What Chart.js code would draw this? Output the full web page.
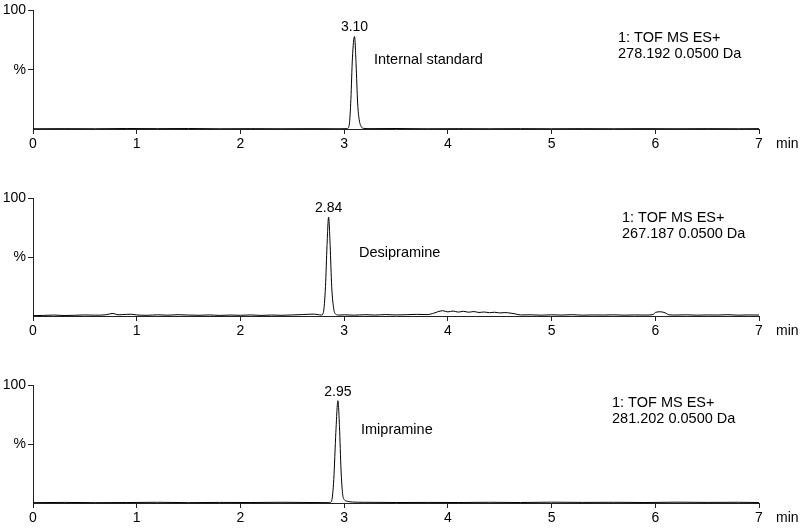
<!DOCTYPE html>
<html><head><meta charset="utf-8">
<script src="https://cdn.jsdelivr.net/npm/chart.js@4.4.1/dist/chart.umd.min.js"></script>
<style>
html,body{margin:0;padding:0;background:#fff;overflow:hidden;width:800px;height:530px;}
.p{position:absolute;left:0;width:800px;}
</style></head><body>
<div class="p" style="top:0px;height:160px"><canvas id="c1" width="800" height="160"></canvas></div>
<div class="p" style="top:188px;height:160px"><canvas id="c2" width="800" height="160"></canvas></div>
<div class="p" style="top:375px;height:155px"><canvas id="c3" width="800" height="155"></canvas></div>
<script>
// ---- data ----
const xTicks = [0,1,2,3,4,5,6,7];
const xUnit = 'min';
const yTickLabels = {100:'100', 50:'%'};
const compounds = ['Internal standard','Desipramine','Imipramine'];
const peakLabels = ['3.10','2.84','2.95'];
const channel = '1: TOF MS ES+';
const masses = ['278.192 0.0500 Da','267.187 0.0500 Da','281.202 0.0500 Da'];

// Panel 1: internal standard (time, %)
const time1 = [0,0.3,0.6,0.9,1.2,1.5,1.8,2.1,2.4,2.7,2.95,3.03,3.05,3.065,3.08,3.10,3.115,3.13,3.145,3.165,3.19,3.25,3.5,3.8,4.1,4.4,4.7,5.0,5.3,5.6,5.9,6.2,6.5,6.8,7.0];
const pct1  = [0.2,0.3,0.2,0.4,0.3,0.4,0.2,0.3,0.2,0.3,0.2,0.3,4,25,60,78,55,22,8,2,0.5,0.3,0.4,0.2,0.3,0.2,0.3,0.2,0.3,0.2,0.3,0.2,0.3,0.2,0.3];

// Panel 2: desipramine
const time2 = [0,0.1,0.2,0.3,0.4,0.5,0.6,0.7,0.77,0.82,0.9,0.95,1.0,1.1,1.2,1.3,1.4,1.5,1.6,1.7,1.8,1.9,2.0,2.1,2.2,2.3,2.4,2.5,2.6,2.7,2.75,2.78,2.80,2.82,2.835,2.85,2.865,2.88,2.90,2.92,2.95,3.0,3.1,3.2,3.3,3.4,3.5,3.6,3.7,3.8,3.85,3.9,3.95,4.0,4.05,4.1,4.15,4.2,4.25,4.3,4.35,4.4,4.45,4.5,4.55,4.6,4.65,4.7,4.8,4.9,5.0,5.1,5.2,5.3,5.4,5.5,5.6,5.7,5.8,5.9,5.98,6.0,6.05,6.1,6.13,6.2,6.3,6.4,6.5,6.6,6.7,6.8,6.9,7.0];
const pct2  = [0.3,0.5,0.8,0.4,0.6,0.9,0.7,1.0,2.2,1.0,1.4,1.5,0.9,0.6,1.0,0.7,1.1,0.8,0.6,0.9,0.5,0.8,0.6,0.9,0.5,0.8,0.6,0.9,1.2,1.6,1.2,0.8,3,25,60,84,60,25,6,1.5,0.8,1.0,0.7,1.1,0.8,1.2,0.9,1.1,1.4,1.2,2.0,3.5,4.5,3.5,4.2,3.3,4.0,3.2,3.8,3.0,3.4,2.8,3.2,2.6,2.9,2.5,1.8,0.9,1.0,0.7,1.0,0.8,1.1,0.7,0.9,0.8,1.0,0.7,0.9,0.8,1.2,3.0,3.6,2.5,1.0,0.8,1.0,0.7,0.9,0.8,1.1,0.7,0.9,0.8];

// Panel 3: imipramine
const time3 = [0,0.3,0.6,0.9,1.2,1.5,1.8,2.1,2.4,2.7,2.86,2.88,2.90,2.92,2.94,2.955,2.97,2.985,3.0,3.03,3.08,3.2,3.5,3.8,4.1,4.4,4.7,5.0,5.3,5.6,5.9,6.2,6.5,6.8,7.0];
const pct3  = [0.3,0.5,0.3,0.4,0.6,0.3,0.5,0.4,0.6,0.4,0.3,2,20,60,87,65,28,8,3,1.5,0.8,0.6,0.4,0.5,0.4,0.6,0.4,0.7,0.5,0.6,0.4,0.7,0.5,0.6,0.4];

// ---- rendering ----
const FONT = '"Liberation Sans", Arial, sans-serif';
const AX = '#222';

const textPlugin = {
  id: 'chromText',
  afterDraw(chart) {
    const o = chart.options.plugins.chromText;
    const ctx = chart.ctx, xs = chart.scales.x, ys = chart.scales.y, ca = chart.chartArea;
    ctx.save();
    ctx.fillStyle = '#000';
    ctx.font = '14px ' + FONT;
    ctx.textBaseline = 'middle';
    ctx.textAlign = 'left';
    ctx.fillText(xUnit, 776, ca.bottom + 15);
    ctx.textAlign = 'center';
    ctx.textBaseline = 'alphabetic';
    ctx.fillText(o.peakLabel, xs.getPixelForValue(o.apexT), ys.getPixelForValue(o.apexY) - 5);
    ctx.font = '14.5px ' + FONT;
    ctx.textAlign = 'left';
    ctx.textBaseline = 'middle';
    ctx.fillText(o.compound, o.cx, ca.top + o.cy);
    ctx.fillText(channel, o.mx, ca.top + o.my);
    ctx.fillText(o.mass, o.mx, ca.top + o.my + 16);
    ctx.restore();
  }
};

function makeChart(id, times, pcts, idx, padBottom, cpos, mpos) {
  let apexI = 0;
  pcts.forEach((v,i)=>{ if (v > pcts[apexI]) apexI = i; });
  new Chart(document.getElementById(id), {
    type: 'line',
    data: { datasets: [{
      data: times.map((t,i)=>({x:t, y:pcts[i]})),
      borderColor: '#000', borderWidth: 1, pointRadius: 0,
      cubicInterpolationMode: 'monotone', fill: false
    }]},
    options: {
      responsive: false, animation: false,
      layout: { padding: { top: 8, right: 41, bottom: padBottom, left: 0 } },
      plugins: {
        legend: { display: false }, tooltip: { enabled: false },
        chromText: { peakLabel: peakLabels[idx], apexT: times[apexI], apexY: pcts[apexI],
          compound: compounds[idx], cx: cpos[0], cy: cpos[1], mass: masses[idx], mx: mpos[0], my: mpos[1] }
      },
      scales: {
        x: {
          type: 'linear', min: 0, max: 7,
          afterBuildTicks(s) { s.ticks = xTicks.map(v=>({value:v})); },
          afterFit(s) { s.height = 24; },
          border: { display: true, color: AX, width: 1 },
          grid: { drawOnChartArea: false, drawTicks: true, tickLength: 5, tickColor: AX },
          ticks: { color: '#000', font: { family: FONT, size: 14 }, padding: 2, maxRotation: 0 }
        },
        y: {
          min: 0, max: 100,
          afterBuildTicks(s) { s.ticks = [{value:0},{value:50},{value:100}]; },
          afterFit(s) { s.width = 33; },
          border: { display: true, color: AX, width: 1 },
          grid: { drawOnChartArea: false, drawTicks: true, tickLength: 5, tickColor: AX },
          ticks: { color: '#000', font: { family: FONT, size: 14 }, padding: 2,
            callback: v => (yTickLabels[v] !== undefined ? yTickLabels[v] : null) }
        }
      }
    },
    plugins: [textPlugin]
  });
}

makeChart('c1', time1, pct1, 0, 7, [374, 50], [618, 28]);
makeChart('c2', time2, pct2, 1, 8, [359, 55], [622, 20]);
makeChart('c3', time3, pct3, 2, 3, [361, 45], [612, 18]);
</script>
</body></html>
